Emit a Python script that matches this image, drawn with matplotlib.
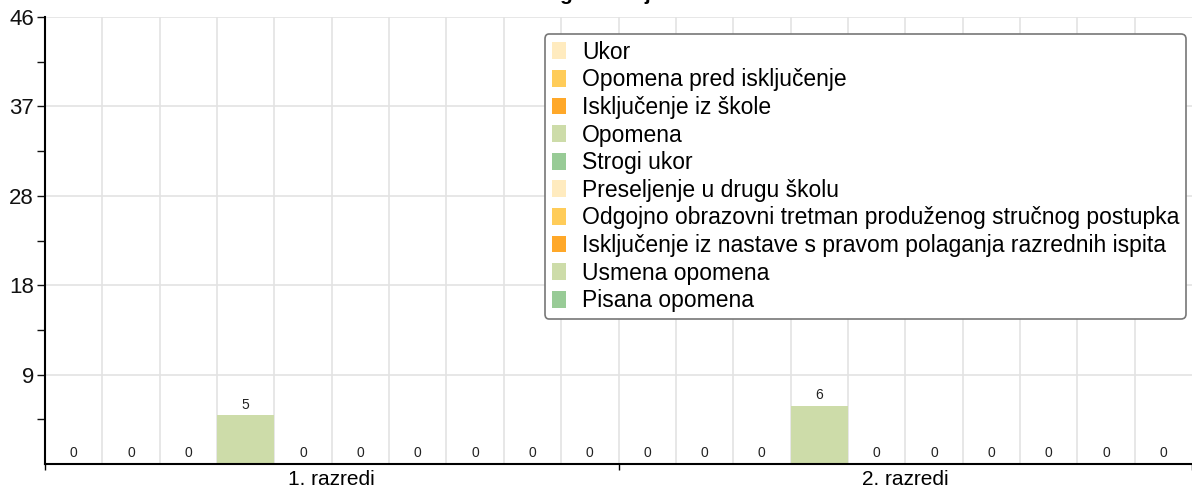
import numpy as np
import matplotlib
matplotlib.use("Agg")
import matplotlib.pyplot as plt
from matplotlib.ticker import FixedLocator

plt.rcParams['font.family'] = ['Liberation Sans', 'DejaVu Sans']

title = 'Pedagoške mjere'
groups = ['1. razredi', '2. razredi']
series = [
    'Ukor',
    'Opomena pred isključenje',
    'Isključenje iz škole',
    'Opomena',
    'Strogi ukor',
    'Preseljenje u drugu školu',
    'Odgojno obrazovni tretman produženog stručnog postupka',
    'Isključenje iz nastave s pravom polaganja razrednih ispita',
    'Usmena opomena',
    'Pisana opomena',
]
colors = ['#ffebbf', '#ffcc59', '#ffa829', '#cddca9', '#98cb96',
          '#ffebbf', '#ffcc59', '#ffa829', '#cddca9', '#98cb96']
# values[series][group]
values = [
    [0, 0], [0, 0], [0, 0], [5, 6], [0, 0],
    [0, 0], [0, 0], [0, 0], [0, 0], [0, 0],
]
y_max = 46
y_ticks = [9.2, 18.4, 27.6, 36.8, 46]
y_labels = ['9', '18', '28', '37', '46']

W, H = 1192, 499
fig = plt.figure(figsize=(W / 100, H / 100), dpi=100)
ax = fig.add_axes([45 / W, 1 - 464 / H, 1 - 45 / W, (464 - 17) / H])

n = len(series)
for i, name in enumerate(series):
    xs = [g * n + i + 0.5 for g in range(len(groups))]
    ax.bar(xs, values[i], width=1.0, color=colors[i], label=name,
           zorder=2, linewidth=0)
    for x, v in zip(xs, values[i]):
        ax.text(x, v + 0.4, str(v), ha='center', va='bottom', fontsize=10,
                color='#222222', zorder=3)

total = n * len(groups)
ax.set_xlim(0, total)
ax.set_ylim(0, y_max)

# grid: vertical at bar edges, horizontal at major ticks
for k in range(1, total):
    ax.axvline(k, color='#e3e3e3', lw=1.2, zorder=1)
for t in y_ticks:
    ax.axhline(t, color='#e3e3e3', lw=1.2, zorder=1)

ax.yaxis.set_major_locator(FixedLocator(y_ticks))
ax.set_yticklabels(y_labels, fontsize=16)
ax.yaxis.set_minor_locator(FixedLocator([t - 4.6 for t in y_ticks]))
ax.tick_params(axis='y', which='both', length=6, width=1, pad=2,
               colors='#111111')

ax.xaxis.set_major_locator(FixedLocator([n / 2 + g * n for g in range(len(groups))]))
ax.set_xticklabels(groups, fontsize=15)
ax.xaxis.set_minor_locator(FixedLocator([g * n for g in range(len(groups) + 1)]))
ax.tick_params(axis='x', which='major', length=0, pad=4)
ax.tick_params(axis='x', which='minor', length=4, width=1)

for s in ['top', 'right']:
    ax.spines[s].set_visible(False)
for s in ['left', 'bottom']:
    ax.spines[s].set_linewidth(1.5)
    ax.spines[s].set_zorder(4)

leg = ax.legend(loc='upper right', bbox_to_anchor=(1186 / W, 1 - 34 / H),
                bbox_transform=fig.transFigure, borderaxespad=0,
                fontsize=16.5, frameon=True, fancybox=True,
                handlelength=0.62, handleheight=0.75, handletextpad=0.7,
                labelspacing=0.2, borderpad=0.3)
leg.get_frame().set_edgecolor('#777777')
leg.get_frame().set_linewidth(1.2)
leg.get_frame().set_alpha(1)
leg.set_zorder(5)

fig.text(0.5, 1.0, title, ha='center', va='baseline', fontsize=15,
         fontweight='bold')

fig.savefig('out.png', dpi=100)
